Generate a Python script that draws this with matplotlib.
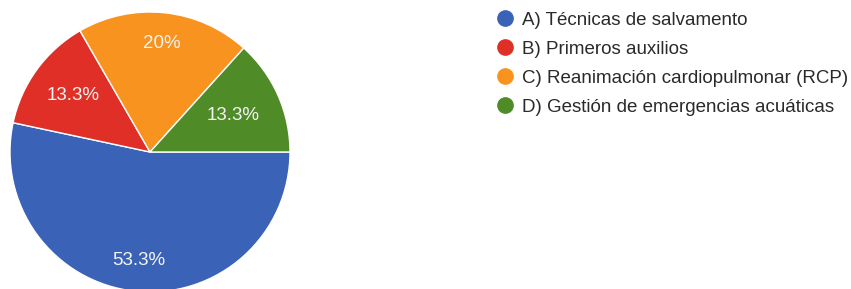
import numpy as np
import matplotlib
matplotlib.use("Agg")
import matplotlib.pyplot as plt
from matplotlib.lines import Line2D

# ---------------- data ----------------
labels = ["A) Técnicas de salvamento",
          "B) Primeros auxilios",
          "C) Reanimación cardiopulmonar (RCP)",
          "D) Gestión de emergencias acuáticas"]
values = [53.3, 13.3, 20.0, 13.3]
pct_text = ["53.3%", "13.3%", "20%", "13.3%"]
colors = ["#3a62b6", "#df2f27", "#f8931f", "#4f8b26"]
label_dist = [0.78, 0.68, 0.78, 0.65]

plt.rcParams['font.family'] = ['Liberation Sans', 'DejaVu Sans']

fig = plt.figure(figsize=(8.51, 2.89), dpi=100)
W, H = 851, 289
cx, cy, r = 150, 152, 140
ax = fig.add_axes([(cx - r) / W, (H - cy - r) / H, 2 * r / W, 2 * r / H])

wedges, _ = ax.pie(values, colors=colors, startangle=0, counterclock=False,
                   radius=1, wedgeprops=dict(edgecolor="white", linewidth=1))
ax.set_xlim(-1, 1)
ax.set_ylim(-1, 1)
ax.set_aspect("equal")
ax.axis("off")

# percentage labels at the middle of each wedge
for w, t, d in zip(wedges, pct_text, label_dist):
    mid = np.deg2rad((w.theta1 + w.theta2) / 2)
    ax.text(d * np.cos(mid), d * np.sin(mid), t, ha="center", va="center",
            color="#f4f4f4", fontsize=13.5)

# legend
handles = [Line2D([0], [0], marker="o", linestyle="", markersize=11,
                  markerfacecolor=c, markeredgecolor=c) for c in colors]
fig.legend(handles, labels, loc="upper left", bbox_to_anchor=(495.6 / W, 1 - 11.5 / H),
           frameon=False, fontsize=13.5, labelspacing=0.64, handlelength=1.0,
           handletextpad=0.4, borderpad=0, borderaxespad=0, labelcolor="#2a2a2a")

fig.savefig("out.png", dpi=100)
